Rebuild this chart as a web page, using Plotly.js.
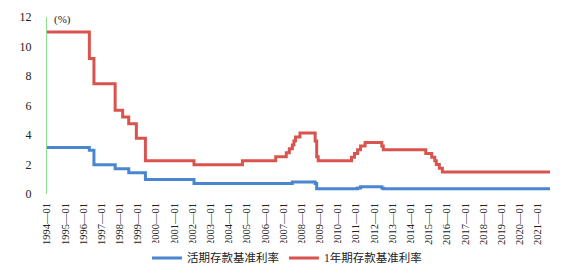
<!DOCTYPE html>
<html>
<head>
<meta charset="utf-8">
<script src="https://cdn.plot.ly/plotly-3.0.1.min.js"></script>
<style>html,body{margin:0;padding:0;background:#fff;}#chart{width:566px;height:271px;}</style>
</head>
<body>
<div id="chart"></div>
<script>
// Change points (month of change) for the benchmark deposit rates, %
const demandMonths = ['1994-01','1996-05','1996-08','1997-10','1998-07','1999-06','2002-02','2007-07','2008-10','2008-11','2011-02','2011-04','2012-06','2012-07','2021-09'];
const demandRates  = [3.15, 2.97, 1.98, 1.71, 1.44, 0.99, 0.72, 0.81, 0.72, 0.36, 0.40, 0.50, 0.40, 0.35, 0.35];

const oneYearMonths = ['1994-01','1996-05','1996-08','1997-10','1998-03','1998-07','1998-12','1999-06','2002-02','2004-10','2006-08','2007-03','2007-05','2007-07','2007-08','2007-09','2007-12','2008-10','2008-11','2008-12','2010-10','2010-12','2011-02','2011-04','2011-07','2012-06','2012-07','2014-11','2015-03','2015-05','2015-06','2015-08','2015-10','2021-09'];
const oneYearRates  = [10.98, 9.18, 7.47, 5.67, 5.22, 4.77, 3.78, 2.25, 1.98, 2.25, 2.52, 2.79, 3.06, 3.33, 3.60, 3.87, 4.14, 3.60, 2.52, 2.25, 2.50, 2.75, 3.00, 3.25, 3.50, 3.25, 3.00, 2.75, 2.50, 2.25, 2.00, 1.75, 1.50, 1.50];

const seriesNames = ['活期存款基准利率', '1年期存款基准利率'];

const tickMonths = ['1994-01','1995-01','1996-01','1997-01','1998-01','1999-01','2000-01','2001-01','2002-01','2003-01','2004-01','2005-01','2006-01','2007-01','2008-01','2009-01','2010-01','2011-01','2012-01','2013-01','2014-01','2015-01','2016-01','2017-01','2018-01','2019-01','2020-01','2021-01'];
const tickLabels = tickMonths.map(m => m.replace('-', '—'));

const serif = "'Liberation Serif', 'Times New Roman', 'Noto Sans CJK SC', serif";

const traces = [
  {x: demandMonths, y: demandRates, name: seriesNames[0], type: 'scatter', mode: 'lines',
   line: {color: '#4a86cf', width: 3, shape: 'hv'}},
  {x: oneYearMonths, y: oneYearRates, name: seriesNames[1], type: 'scatter', mode: 'lines',
   line: {color: '#d9534f', width: 3, shape: 'hv'}}
];

const layout = {
  width: 566, height: 271,
  margin: {l: 47, r: 16, t: 17, b: 77, autoexpand: false},
  paper_bgcolor: '#ffffff', plot_bgcolor: '#ffffff',
  font: {family: serif, size: 11, color: '#222'},
  showlegend: true,
  legend: {orientation: 'h', xref: 'container', yref: 'container', x: 0.507, xanchor: 'center', y: 0.048, yanchor: 'middle',
           font: {family: serif, size: 11.5, color: '#222'}, itemwidth: 30, tracegroupgap: 0},
  xaxis: {type: 'date', range: ['1994-01-01', '2021-09-01'], automargin: false,
          tickmode: 'array', tickvals: tickMonths, ticktext: tickLabels,
          tickangle: -90, ticks: '', showgrid: false, showline: false, zeroline: false,
          tickfont: {family: serif, size: 10.5, color: '#222'}, ticklabelstandoff: 6},
  yaxis: {range: [0, 12], tickmode: 'array', tickvals: [0, 2, 4, 6, 8, 10, 12], automargin: false,
          showgrid: false, zeroline: false, showline: true, linecolor: '#8ee08e', linewidth: 1,
          ticks: '', tickfont: {family: serif, size: 12, color: '#222'}, ticklabelstandoff: 12},
  annotations: [{text: '(%)', xref: 'paper', yref: 'paper', x: 0.01, y: 1, xanchor: 'left', yanchor: 'middle',
                 yshift: -2, showarrow: false, font: {family: serif, size: 11, color: '#222'}}]
};

Plotly.newPlot('chart', traces, layout, {displayModeBar: false, staticPlot: true});
</script>
</body>
</html>
